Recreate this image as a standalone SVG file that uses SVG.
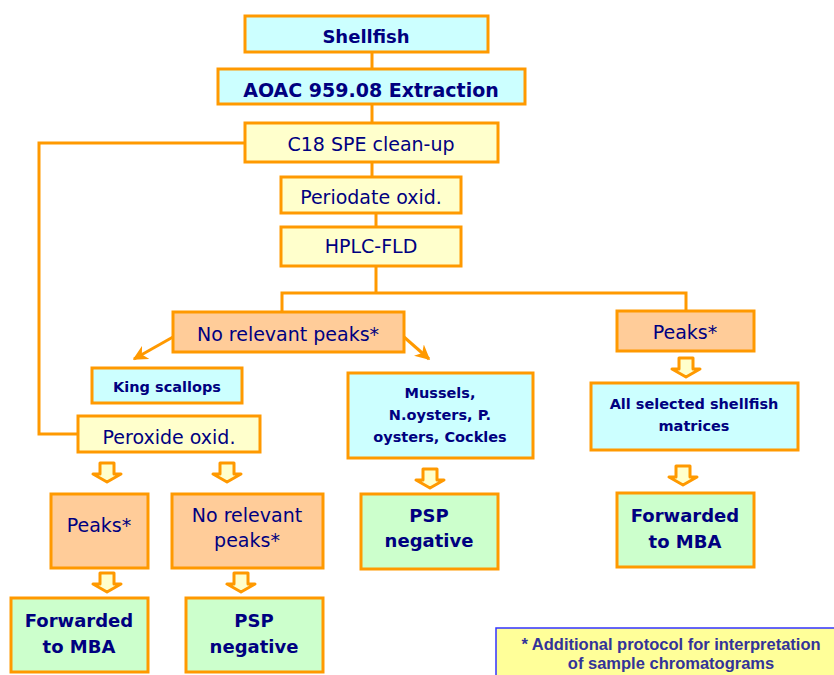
<svg xmlns="http://www.w3.org/2000/svg" width="834" height="675" viewBox="0 0 834 675">
<defs>
<style>
.box{stroke:#FF9900;stroke-width:3}
.cyan{fill:#CCFFFF}
.yel{fill:#FFFFCC}
.peach{fill:#FFCC99}
.green{fill:#CCFFCC}
.t{font-family:"DejaVu Sans","Liberation Sans",sans-serif;fill:#000080;text-anchor:middle;font-size:19px}
.b{font-weight:bold;font-size:18px}
.s{font-size:14.5px}
.con{stroke:#FF9900;stroke-width:3;fill:none}
.ba{fill:#FFFFCC;stroke:#FF9900;stroke-width:3;stroke-linejoin:round}
.fn{font-family:"Liberation Sans",Arial,sans-serif;font-weight:bold;font-size:16.5px;fill:#333399;text-anchor:middle}
</style>
<marker id="ah" viewBox="0 0 10 10" refX="9" refY="5" markerWidth="5" markerHeight="5" orient="auto" markerUnits="strokeWidth">
<path d="M0,0 L10,5 L0,10 L3,5 Z" fill="#FF9900"/>
</marker>
<path id="blk" d="M-7,0 H7 V11 H14 L0,19 L-14,11 H-7 Z"/>
</defs>
<rect width="834" height="675" fill="#FFFFFF"/>
<g id="connectors">
<line class="con" x1="372" y1="52" x2="372" y2="69"/>
<line class="con" x1="372" y1="104" x2="372" y2="123"/>
<line class="con" x1="372" y1="162" x2="372" y2="177"/>
<line class="con" x1="376" y1="213" x2="376" y2="227"/>
<polyline class="con" points="376,266 376,293"/>
<polyline class="con" points="282,312 282,293 686,293 686,311"/>
<polyline class="con" points="245,143 39,143 39,434 78,434"/>
<line class="con" x1="173" y1="337" x2="134" y2="359" marker-end="url(#ah)"/>
<line class="con" x1="404" y1="337" x2="429" y2="359" marker-end="url(#ah)"/>
<use href="#blk" class="ba" x="107" y="463"/>
<use href="#blk" class="ba" x="227" y="463"/>
<use href="#blk" class="ba" x="107" y="573"/>
<use href="#blk" class="ba" x="241" y="573"/>
<use href="#blk" class="ba" x="430" y="469"/>
<use href="#blk" class="ba" x="686" y="358"/>
<use href="#blk" class="ba" x="683" y="466"/>
</g>
<g id="shellfish"><rect class="box cyan" x="245" y="16" width="243" height="36"/><text class="t b" x="366" y="43">Shellfish</text></g>
<g id="aoac"><rect class="box cyan" x="218" y="69" width="307" height="35"/><text class="t b" x="371" y="97" style="font-size:19px">AOAC 959.08 Extraction</text></g>
<g id="c18"><rect class="box yel" x="245" y="123" width="253" height="39"/><text class="t" x="371" y="151">C18 SPE clean-up</text></g>
<g id="periodate"><rect class="box yel" x="281" y="177" width="180" height="36"/><text class="t" x="371" y="204">Periodate oxid.</text></g>
<g id="hplc"><rect class="box yel" x="281" y="227" width="180" height="39"/><text class="t" x="371" y="253">HPLC-FLD</text></g>
<g id="norelevant"><rect class="box peach" x="173" y="312" width="231" height="40"/><text class="t" x="288" y="341">No relevant peaks*</text></g>
<g id="peaks-right"><rect class="box peach" x="617" y="311" width="137" height="40"/><text class="t" x="685" y="339">Peaks*</text></g>
<g id="king"><rect class="box cyan" x="92" y="368" width="150" height="35"/><text class="t b s" x="167" y="392">King scallops</text></g>
<g id="peroxide"><rect class="box yel" x="78" y="416" width="182" height="36"/><text class="t" x="169" y="444">Peroxide oxid.</text></g>
<g id="mussels"><rect class="box cyan" x="348" y="373" width="185" height="85"/><text class="t b s" x="440" y="398">Mussels,</text><text class="t b s" x="440" y="420">N.oysters, P.</text><text class="t b s" x="440" y="442">oysters, Cockles</text></g>
<g id="allselected"><rect class="box cyan" x="591" y="383" width="207" height="67"/><text class="t b s" x="694" y="409">All selected shellfish</text><text class="t b s" x="694" y="431">matrices</text></g>
<g id="peaks-left"><rect class="box peach" x="51" y="494" width="97" height="74"/><text class="t" x="99" y="532">Peaks*</text></g>
<g id="norelevant2"><rect class="box peach" x="172" y="494" width="151" height="74"/><text class="t" x="247" y="522">No relevant</text><text class="t" x="247" y="547">peaks*</text></g>
<g id="psp-mid"><rect class="box green" x="361" y="494" width="137" height="75"/><text class="t b" x="429" y="522">PSP</text><text class="t b" x="429" y="547">negative</text></g>
<g id="mba-right"><rect class="box green" x="617" y="493" width="137" height="74"/><text class="t b" x="685" y="522">Forwarded</text><text class="t b" x="685" y="548">to MBA</text></g>
<g id="mba-left"><rect class="box green" x="11" y="598" width="137" height="74"/><text class="t b" x="79" y="627">Forwarded</text><text class="t b" x="79" y="653">to MBA</text></g>
<g id="psp-left"><rect class="box green" x="186" y="598" width="137" height="74"/><text class="t b" x="254" y="627">PSP</text><text class="t b" x="254" y="653">negative</text></g>
<g id="footnote"><rect x="496" y="628" width="345" height="60" fill="#FFFF99" stroke="#3333FF" stroke-width="1.5"/><text class="fn" x="671" y="650">* Additional protocol for interpretation</text><text class="fn" x="671" y="669">of sample chromatograms</text></g>
</svg>
